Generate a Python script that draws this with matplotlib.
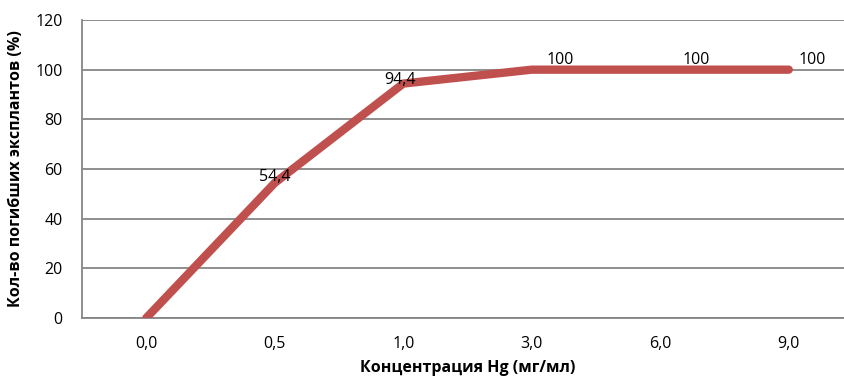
import matplotlib.pyplot as plt

plt.rcParams['font.family'] = ['Open Sans', 'DejaVu Sans']

# Данные
concentrations = ["0,0", "0,5", "1,0", "3,0", "6,0", "9,0"]
dead_pct = [0, 54.4, 94.4, 100, 100, 100]
label_offsets = [None, (0, 6), (-3, 4), (28, 10), (36, 10), (23, 10)]  # px

fig = plt.figure(figsize=(8.44, 3.79), dpi=100)
# область построения немного выходит за правый край
ax = fig.add_axes([82 / 844, 1 - 318 / 379, 771 / 844, 298 / 379])

x = list(range(len(concentrations)))
ax.plot(x, dead_pct, color='#C0504D', linewidth=6, solid_capstyle='round',
        solid_joinstyle='miter', zorder=3)

for xi, val, off in zip(x, dead_pct, label_offsets):
    if off is None:
        continue
    txt = f"{val:g}".replace('.', ',')
    ax.annotate(txt, (xi, val), xytext=(off[0] * 0.72, off[1] * 0.72),
                textcoords='offset points', ha='center', va='center',
                fontsize=11.5, color='#000000', zorder=4)

ax.set_xlim(-0.5, len(concentrations) - 0.5)
ax.set_ylim(0, 120)
ax.set_yticks(range(0, 121, 20))
ax.set_xticks(x)
ax.set_xticklabels(concentrations)
ax.tick_params(axis='both', length=0, labelsize=11.5, colors='#000000')
ax.tick_params(axis='y', pad=14)
ax.tick_params(axis='x', pad=13)

ax.grid(axis='y', color='#868686', linewidth=1.3)
ax.set_axisbelow(True)
for side in ['top', 'right']:
    ax.spines[side].set_visible(False)
for side in ['left', 'bottom']:
    ax.spines[side].set_color('#868686')
    ax.spines[side].set_linewidth(1.3)

ax.set_xlabel("Концентрация Hg (мг/мл)", fontsize=11.5, fontweight='bold', labelpad=6)
ax.set_ylabel("Кол-во погибших эксплантов (%)", fontsize=11.5, fontweight='bold', labelpad=8)

fig.savefig("out.png", dpi=100)
